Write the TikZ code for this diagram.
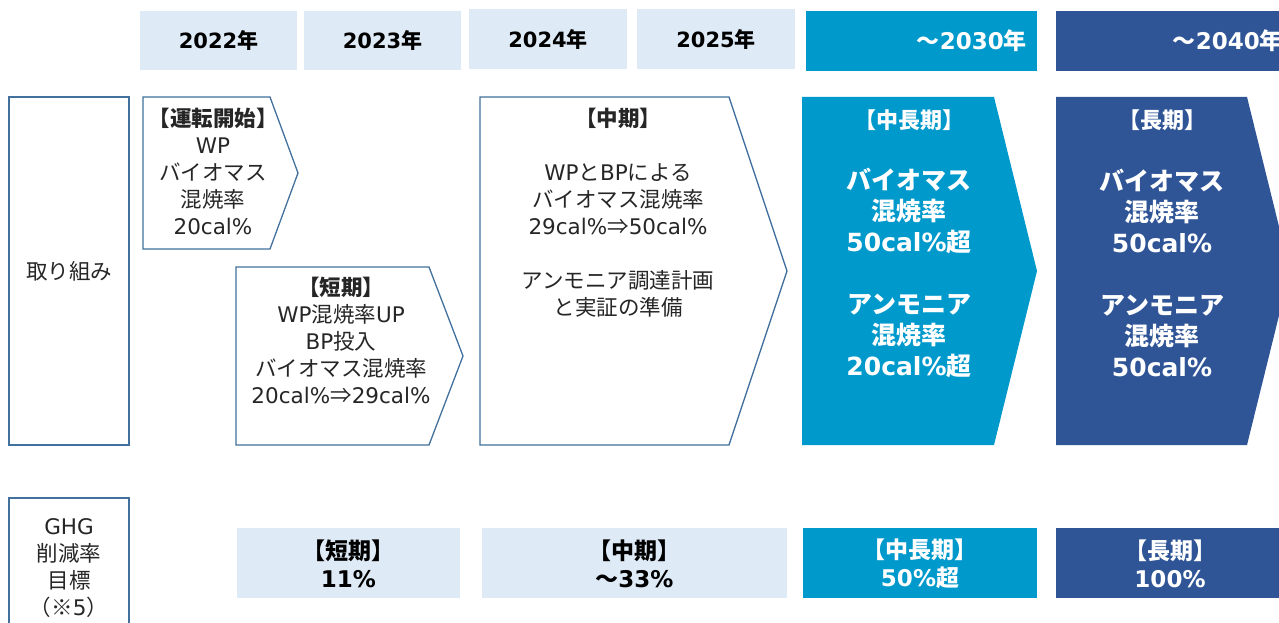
\documentclass[tikz,border=0pt]{standalone}
\usepackage{fontspec}
\setmainfont{DejaVu Sans}
\newfontfamily\jpf{Noto Sans CJK JP}
\newcommand\J[1]{{\jpf #1}}
\definecolor{lightbox}{HTML}{DEEAF6}
\definecolor{cyanbox}{HTML}{0099CC}
\definecolor{navybox}{HTML}{2F5597}
\definecolor{outl}{HTML}{41719C}
\definecolor{txtgray}{HTML}{262626}
\tikzset{
  hdr/.style={fill=lightbox, draw=none, inner sep=0},
  yrtxt/.style={font=\fontsize{21}{25}\selectfont\bfseries, text=black, inner sep=0},
  yrbig/.style={font=\fontsize{23}{27}\selectfont\bfseries, text=white, inner sep=0, anchor=east},
  outlined/.style={draw=outl, line width=1.3pt, fill=white},
  bodytxt/.style={font=\fontsize{21.5}{27}\selectfont, align=center, text=txtgray, inner sep=0},
  bigtxt/.style={font=\fontsize{25}{31}\selectfont\bfseries, align=center, text=white, inner sep=0},
  ttltxt/.style={font=\fontsize{22}{27}\selectfont\bfseries, align=center, text=white, inner sep=0},
  goaltxt/.style={font=\fontsize{23}{28}\selectfont\bfseries, align=center, inner sep=0},
}
\begin{document}
\begin{tikzpicture}[x=1pt,y=-1pt]
\useasboundingbox (0,0) rectangle (1279,623);
\clip (0,0) rectangle (1279,623);
% year headers
\node[hdr, minimum width=157, minimum height=59] (y22) at (218.5,40.5) {};
\node[hdr, minimum width=157, minimum height=59] (y23) at (382.5,40.5) {};
\node[hdr, minimum width=158, minimum height=60] (y24) at (548,39) {};
\node[hdr, minimum width=158, minimum height=60] (y25) at (716,39) {};
\node[fill=cyanbox, inner sep=0, minimum width=231, minimum height=60] (y30) at (921.5,41) {};
\node[fill=navybox, inner sep=0, minimum width=234, minimum height=60] (y40) at (1173,41) {};
\node[yrtxt] (t22) at (y22) {2022\J{年}};
\node[yrtxt] (t23) at (y23) {2023\J{年}};
\node[yrtxt] (t24) at (y24) {2024\J{年}};
\node[yrtxt] (t25) at (y25) {2025\J{年}};
\node[yrbig] (t30) at (1027,41) {\J{～}2030\J{年}};
\node[yrbig] (t40) at (1283,41) {\J{～}2040\J{年}};
% left labels
\node[outlined, minimum width=120, minimum height=348, inner sep=0] (lab1) at (69,271) {};
\node[bodytxt] (lab1t) at (lab1) {\J{取り組み}};
\node[outlined, minimum width=120, minimum height=142, inner sep=0] (lab2) at (69,569) {};
\node[bodytxt] (lab2t) at (69,568) {GHG\\\J{削減率}\\\J{目標}\\\J{（※}5\J{）}};
% pentagons
\draw[outlined] (143,97) -- (270,97) -- (298,173) -- (270,249) -- (143,249) -- cycle;
\draw[outlined] (236,267) -- (429,267) -- (463,356) -- (429,445) -- (236,445) -- cycle;
\draw[outlined] (480,97) -- (729,97) -- (787,271) -- (729,445) -- (480,445) -- cycle;
\fill[cyanbox] (802,97) -- (994,97) -- (1037,271) -- (994,445) -- (802,445) -- cycle;
\fill[navybox] (1056,97) -- (1247,97) -- (1290,271) -- (1247,445) -- (1056,445) -- cycle;
\node[bodytxt] (p1) at (213,171) {\textbf{\J{【運転開始】}}\\WP\\\J{バイオマス}\\\J{混焼率}\\20cal\%};
\node[bodytxt] (p2) at (341,340) {\textbf{\J{【短期】}}\\WP\J{混焼率}UP\\BP\J{投入}\\\J{バイオマス混焼率}\\20cal\%\J{⇒}29cal\%};
\node[bodytxt] (p3) at (618,212.5) {\textbf{\J{【中期】}}\\[27pt]WP\J{と}BP\J{による}\\\J{バイオマス混焼率}\\29cal\%\J{⇒}50cal\%\\[27pt]\J{アンモニア調達計画}\\\J{と実証の準備}};
\node[ttltxt] (p4t) at (909,120) {\J{【中長期】}};
\node[bigtxt] (p4) at (909,272.5) {\J{バイオマス}\\\J{混焼率}\\50cal\%\J{超}\\[31pt]\J{アンモニア}\\\J{混焼率}\\20cal\%\J{超}};
\node[ttltxt] (p5t) at (1162,120) {\J{【長期】}};
\node[bigtxt] (p5) at (1162,272.5) {\J{バイオマス}\\\J{混焼率}\\50cal\%\\[31pt]\J{アンモニア}\\\J{混焼率}\\50cal\%};
% goal row
\node[hdr, minimum width=223, minimum height=70] (g1) at (348.5,563) {};
\node[hdr, minimum width=305, minimum height=70] (g2) at (634.5,563) {};
\node[fill=cyanbox, inner sep=0, minimum width=234, minimum height=70] (g3) at (920,563) {};
\node[fill=navybox, inner sep=0, minimum width=234, minimum height=70] (g4) at (1173,563) {};
\node[goaltxt, text=black] (g1t) at (348.5,564) {\J{【短期】}\\11\%};
\node[goaltxt, text=black] (g2t) at (634.5,564) {\J{【中期】}\\\J{～}33\%};
\node[goaltxt, text=white] (g3t) at (920,564) {\J{【中長期】}\\50\%\J{超}};
\node[goaltxt, text=white] (g4t) at (1170,564) {\J{【長期】}\\100\%};
\end{tikzpicture}
\end{document}
